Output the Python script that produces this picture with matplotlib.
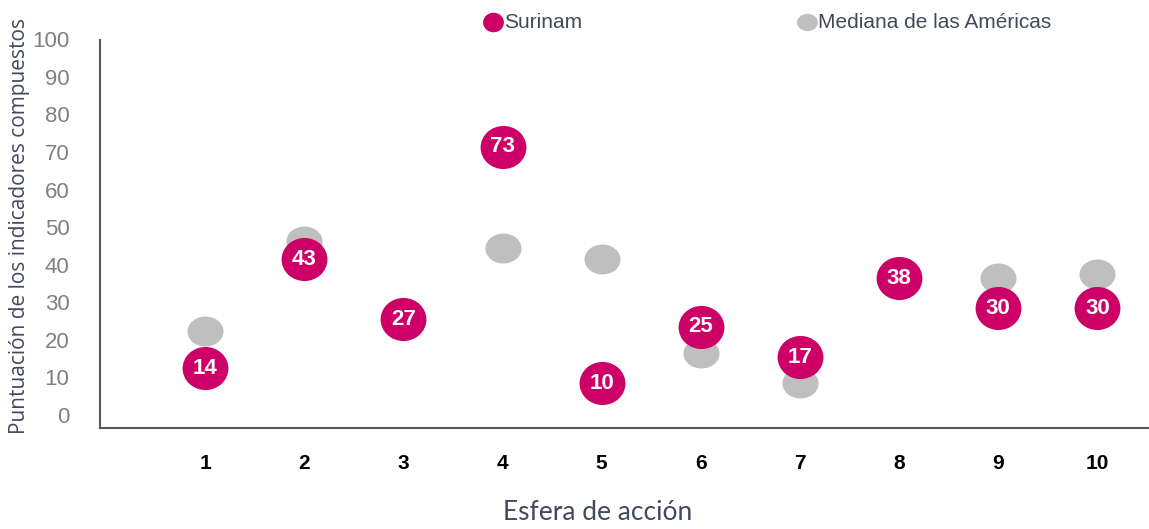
import numpy as np
import matplotlib
matplotlib.use("Agg")
import matplotlib.pyplot as plt
from matplotlib.path import Path
from matplotlib.lines import Line2D
from matplotlib.transforms import ScaledTranslation

# Data
spheres = [1, 2, 3, 4, 5, 6, 7, 8, 9, 10]
surinam = [14, 43, 27, 73, 10, 25, 17, 38, 30, 30]
median_americas = [24, 48, 26, 46, 43, 18, 10, 37, 38, 39]
y_ticks = [0, 10, 20, 30, 40, 50, 60, 70, 80, 90, 100]

MAGENTA = "#CC0066"
GREY = "#BFBFBF"
SLATE = "#414A5C"


def ellipse_marker(aspect):
    circ = Path.unit_circle()
    verts = circ.vertices * np.array([1.0, aspect])
    return Path(verts, circ.codes)


fig = plt.figure(figsize=(11.49, 5.29), dpi=100)
ax = fig.add_axes([100 / 1149, 1 - 428 / 529, 1 - 100 / 1149, (428 - 40) / 529])

ax.plot(spheres, median_americas, linestyle="none", marker=ellipse_marker(0.83),
        markersize=26, markerfacecolor=GREY, markeredgecolor="none", zorder=2)
ax.plot(spheres, surinam, linestyle="none", marker=ellipse_marker(0.94),
        markersize=33, markerfacecolor=MAGENTA, markeredgecolor="none", zorder=3)
for x, v in zip(spheres, surinam):
    ax.text(x, v, str(v), ha="center", va="center", color="white",
            fontsize=16, fontweight="bold", family="Liberation Sans", zorder=4)

ax.set_xlim(-0.06, 10.52)
ax.set_ylim(-1.9, 101.4)
ax.set_xticks(spheres)
ax.set_xticklabels([str(s) for s in spheres])
ax.set_yticks(y_ticks)
ax.set_yticklabels([str(t) for t in y_ticks])

ax.tick_params(axis="both", length=0)
ax.tick_params(axis="y", pad=22)
ax.tick_params(axis="x", pad=19)

for lab in ax.get_xticklabels():
    lab.set_family("Liberation Sans")
    lab.set_fontweight("bold")
    lab.set_fontsize(15)
    lab.set_color("black")
for tick in ax.yaxis.get_major_ticks():
    lab = tick.label1
    lab.set_family("Liberation Sans")
    lab.set_fontsize(16)
    lab.set_color("#808080")
    lab.set_transform(lab.get_transform() + ScaledTranslation(0, 6 / 100, fig.dpi_scale_trans))

for side in ("top", "right"):
    ax.spines[side].set_visible(False)
for side in ("left", "bottom"):
    ax.spines[side].set_color("#595959")
    ax.spines[side].set_linewidth(1.5)

fig.text(598 / 1149, 1 - 512 / 529, "Esfera de acción", ha="center", va="center",
         fontsize=19, color=SLATE, family="Lato")
fig.text(20 / 1149, 1 - 226 / 529, "Puntuación de los indicadores compuestos",
         rotation=90, ha="center", va="center", fontsize=15, color=SLATE, family="Open Sans")

# Legend drawn in figure coordinates
legend_items = [(493, MAGENTA, "Surinam", 0.94), (807, GREY, "Mediana de las Américas", 0.83)]
for px, col, label, asp in legend_items:
    fig.add_artist(Line2D([px / 1149], [1 - 22 / 529], transform=fig.transFigure,
                          marker=ellipse_marker(asp), markersize=15, markerfacecolor=col,
                          markeredgecolor="none", linestyle="none"))
    fig.text((px + 11) / 1149, 1 - 22 / 529, label, ha="left", va="center",
             fontsize=15, color=SLATE, family="Liberation Sans")

fig.savefig("out.png", dpi=100)
